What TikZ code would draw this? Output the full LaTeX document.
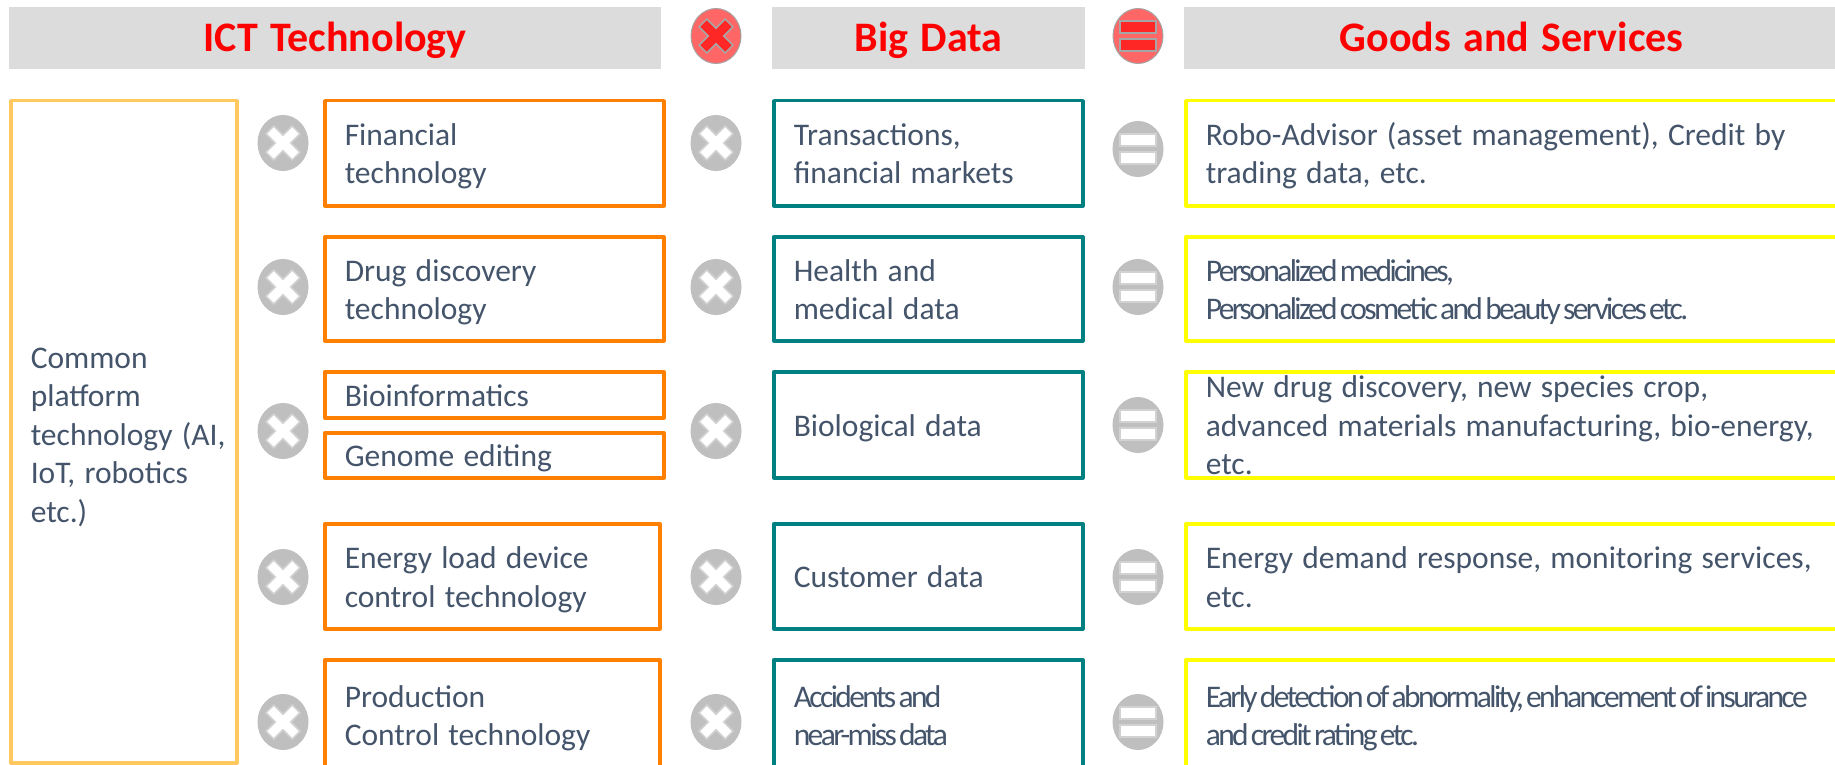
\documentclass[tikz,border=0pt]{standalone}
\usepackage{fontspec}
\setmainfont{Carlito}[WordSpace=1.3]
\newfontfamily\tightfont[LetterSpace=-8.3, WordSpace=0.5]{Carlito}
\usetikzlibrary{positioning, shapes}
\definecolor{txtgray}{HTML}{44546A}
\definecolor{headgray}{HTML}{DCDCDC}
\definecolor{ictorange}{HTML}{FF8000}
\definecolor{ictlight}{HTML}{FFC95F}
\definecolor{datateal}{HTML}{008080}
\definecolor{goodyellow}{HTML}{FFFF00}
\tikzset{
    headbar/.style={fill=headgray, anchor=north west, minimum height=62pt, inner sep=0pt,
        text=red, text height=32pt, text depth=5pt, font=\fontsize{42}{46}\selectfont\bfseries},
    rowbox/.style={draw, fill=white, line width=3.5pt, line join=round, anchor=north west,
        align=flush left, inner xsep=20pt, inner ysep=0pt, text=txtgray,
        font=\fontsize{31.5}{38.5}\selectfont,
        execute at begin node=\rule{0pt}{30pt}, execute at end node=\rule[-7pt]{0pt}{7pt}},
    orangebox/.style={rowbox, draw=ictorange, minimum width=339pt, text width=299pt},
    tealbox/.style={rowbox, draw=datateal, minimum width=309pt, text width=269pt},
    yellowbox/.style={rowbox, draw=goodyellow, minimum width=661pt, text width=621pt},
    opcircle/.style={ellipse, draw=#1, fill=#1, line width=1pt, minimum width=50pt, minimum height=55pt, inner sep=0pt},
    opcircle/.default={gray!50},
    pics/opcross/.style={code={
        \filldraw[#1, line width=1.5pt, rotate=45] (5.5,5.5) -- (18.5,5.5) -- (18.5,-5.5) -- (5.5,-5.5) -- (5.5,-18.5) -- (-5.5,-18.5)
        -- (-5.5,-5.5) -- (-18.5,-5.5) -- (-18.5,5.5) -- (-5.5,5.5) -- (-5.5,18.5) -- (5.5,18.5) -- cycle;}},
    pics/opequal/.style={code={
        \filldraw[#1, line width=1.5pt] (-18,-15) rectangle (18,-3);
        \filldraw[#1, line width=1.5pt] (-18,3) rectangle (18,15);}}
}
\begin{document}
\begin{tikzpicture}[x=1pt, y=-1pt]
    \clip (0,0) rectangle (1835,765);
    \fill[white] (0,0) rectangle (1835,765);
    % header
    \node[headbar, minimum width=652pt] (ict) at (9,7) {ICT Technology};
    \node[headbar, minimum width=313pt] (big) at (772,7) {Big Data};
    \node[headbar, minimum width=655pt] (goods) at (1184,7) {Goods and Services};
    \node[opcircle={gray!70}, fill=red!60] (hx) at (716,36) {};
    \node[opcircle={gray!70}, fill=red!60] (he) at (1138,36) {};
    \pic at (hx) {opcross={draw=gray!70, fill=red!85}};
    \pic at (he) {opequal={draw=gray!70, fill=red!85}};
    % platform
    \node[rowbox, draw=ictlight, minimum width=226pt, text width=186pt, minimum height=662pt] (plat) at (9,99) {};
    \node[rowbox, draw=none, fill=none, anchor=west, text width=200pt, yshift=-2pt] (platt) at (plat.west)
        {Common\\platform\\technology (AI,\\IoT, robotics\\etc.)};
    % technology
    \node[orangebox, minimum height=105pt] (t1) at (323,99) {Financial\\technology};
    \node[orangebox, minimum height=104pt] (t2) at (323,235) {Drug discovery\\technology};
    \node[orangebox, minimum height=46pt] (t3) at (323,370) {Bioinformatics};
    \node[orangebox, minimum height=45pt] (t3b) at (323,431) {Genome editing};
    \node[orangebox, minimum width=335pt, text width=295pt, minimum height=105pt] (t4) at (323,522) {Energy load device\\control technology};
    \node[orangebox, minimum width=335pt, text width=295pt, minimum height=110pt] (t5) at (323,658) {Production\\Control technology};
    % data
    \node[tealbox, minimum height=105pt] (d1) at (772,99) {Transactions,\\financial markets};
    \node[tealbox, minimum height=104pt] (d2) at (772,235) {Health and\\medical data};
    \node[tealbox, minimum height=106pt] (d3) at (772,370) {Biological data};
    \node[tealbox, minimum height=105pt] (d4) at (772,522) {Customer data};
    \node[tealbox, minimum height=110pt] (d5) at (772,658) {{\tightfont Accidents and}\\{\tightfont near-miss data}};
    % goods
    \node[yellowbox, minimum height=105pt] (g1) at (1184,99) {Robo-Advisor (asset management), Credit by\\trading data, etc.};
    \node[yellowbox, minimum height=104pt] (g2) at (1184,235) {{\tightfont Personalized medicines,}\\{\tightfont Personalized cosmetic and beauty services etc.}};
    \node[yellowbox, minimum height=106pt] (g3) at (1184,370) {};
    \node[rowbox, draw=none, fill=none, anchor=west, text width=621pt] (g3t) at (g3.west) {New drug discovery, new species crop,\\advanced materials manufacturing, bio-energy,\\etc.};
    \node[yellowbox, minimum height=105pt] (g4) at (1184,522) {Energy demand response, monitoring services,\\etc.};
    \node[yellowbox, minimum height=110pt] (g5) at (1184,658) {{\tightfont Early detection of abnormality, enhancement of insurance}\\{\tightfont and credit rating etc.}};
    % operators
    \foreach \n/\x/\y in {a1/283/143, a2/283/287, a3/283/431, a4/283/577, a5/283/722,
                          b1/716/143, b2/716/287, b3/716/431, b4/716/577, b5/716/722}{
        \node[opcircle] (\n) at (\x,\y) {};
        \pic at (\n) {opcross={draw=gray!35, fill=white}};
    }
    \foreach \n/\y in {e1/149, e2/287, e3/425, e4/577, e5/722}{
        \node[opcircle] (\n) at (1138,\y) {};
        \pic at (\n) {opequal={draw=gray!35, fill=white}};
    }
\end{tikzpicture}
\end{document}
